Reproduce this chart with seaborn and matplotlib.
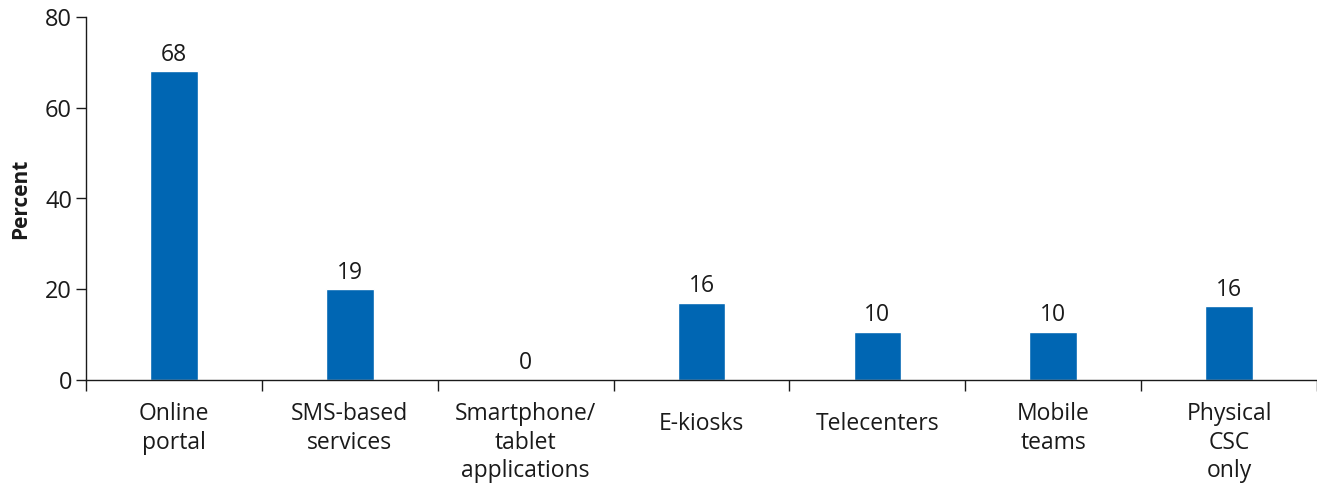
import matplotlib
matplotlib.use("Agg")
import matplotlib.pyplot as plt
import matplotlib.transforms as mtransforms
import seaborn as sns
import pandas as pd
import numpy as np

categories = ["Online\nportal", "SMS-based\nservices", "Smartphone/\ntablet\napplications",
              "E-kiosks", "Telecenters", "Mobile\nteams", "Physical\nCSC\nonly"]
heights = [68, 20, 0, 17, 10.6, 10.6, 16.3]
value_labels = ["68", "19", "0", "16", "10", "10", "16"]
yticks = [0, 20, 40, 60, 80]

sns.set_theme(style="white")
plt.rcParams['font.family'] = ['Open Sans', 'DejaVu Sans']

fig = plt.figure(figsize=(13.17, 4.84), dpi=100)
ax = fig.add_axes([86/1317, 1-380/484, 1-86/1317, (380-17)/484])

df = pd.DataFrame({"cat": categories, "val": heights})
sns.barplot(data=df, x="cat", y="val", color="#0066B3", width=0.27, ax=ax,
            saturation=1, order=categories)

for i, (h, lab) in enumerate(zip(heights, value_labels)):
    ax.text(i, h + 1.0, lab, ha="center", va="bottom", fontsize=16.5, color="#1a1a1a")

ax.set_ylim(0, 80)
ax.set_xlim(-0.5, 6.5)
ax.set_yticks(yticks)
ax.set_yticklabels([str(t) for t in yticks], fontsize=17, color="#1a1a1a")
ax.tick_params(axis="y", length=7, width=1, color="#1a1a1a", direction="out", pad=3, left=True)

ax.set_xticks(range(len(categories)))
ax.set_xticklabels(categories, fontsize=16.5, color="#1a1a1a", linespacing=1.25)
ax.tick_params(axis="x", which="major", length=0, pad=16)
ax.set_xticks(np.arange(-0.5, 7, 1), minor=True)
ax.tick_params(axis="x", which="minor", length=8, width=1, color="#1a1a1a", direction="out", bottom=True)

for lbl in ax.get_xticklabels():
    if "\n" not in lbl.get_text():
        lbl.set_transform(lbl.get_transform() + mtransforms.ScaledTranslation(0, -10/100, fig.dpi_scale_trans))

ax.set_xlabel("")
ax.set_ylabel("Percent", fontsize=15, fontweight="bold", color="#1a1a1a", labelpad=10)

for s in ["top", "right"]:
    ax.spines[s].set_visible(False)
for s in ["left", "bottom"]:
    ax.spines[s].set_color("#1a1a1a")
    ax.spines[s].set_linewidth(1)

fig.savefig("out.png", dpi=100)
